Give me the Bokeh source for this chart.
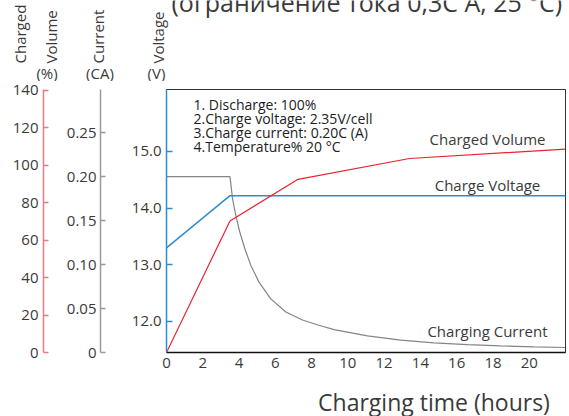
import math
from bokeh.plotting import figure
from bokeh.layouts import column
from bokeh.models import Range1d, LinearAxis, FixedTicker, Label, PrintfTickFormatter
from bokeh.embed import file_html
from bokeh.resources import INLINE

# ---- data ----
hours_volume = [0, 3.5, 7.25, 13.4, 22]
charged_volume = [0, 70.2, 92.4, 103.5, 108.5]

hours_voltage = [0, 3.5, 22]
charge_voltage = [13.3, 14.22, 14.22]

hours_current = [0, 3.5, 3.64, 3.82, 4.04, 4.32, 4.65, 5.1, 5.75, 6.58, 7.5, 8.4,
                 9.24, 11.08, 12.92, 14.75, 16.6, 18.43, 20.27, 22]
charging_current = [0.2, 0.2, 0.175, 0.156, 0.137, 0.118, 0.099, 0.080, 0.061, 0.046,
                    0.037, 0.031, 0.026, 0.019, 0.014, 0.011, 0.009, 0.0075, 0.0064, 0.0057]

x_ticks = [0, 2, 4, 6, 8, 10, 12, 14, 16, 18, 20]
voltage_ticks = [12, 13, 14, 15]
volume_ticks = [0, 20, 40, 60, 80, 100, 120, 140]
current_ticks = [0, 0.05, 0.10, 0.15, 0.20, 0.25]

notes = ["1. Discharge: 100%", "2.Charge voltage: 2.35V/cell",
         "3.Charge current: 0.20C (A)", "4.Temperature% 20 °C"]
series_names = ["Charged Volume", "Charge Voltage", "Charging Current"]
axis_words = ["Charged", "Volume", "Current", "Voltage"]
axis_units = ["(%)", "(CA)", "(V)"]
title_text = "(ограничение тока 0,3C A, 25 °C)"
x_title = "Charging time (hours)"

FONT = "Open Sans"
TXT = "#3a3a3a"
RED = "#e8242e"
RED_AX = "#f07a80"
BLUE = "#2f8bd3"
GRAY = "#858585"
GRAY_AX = "#9a9a9a"
W = 569
TICK_FONT = "15px"


def blank(height, top, bottom):
    f = figure(width=W, height=height, output_backend="svg", toolbar_location=None,
               x_range=Range1d(0, W), y_range=Range1d(bottom, top),
               x_axis_location=None, y_axis_location=None, min_border=0,
               min_border_left=0, min_border_right=0, min_border_top=0, min_border_bottom=0,
               frame_align=False)
    f.outline_line_color = None
    f.grid.visible = False
    f.background_fill_color = "white"
    f.border_fill_color = "white"
    return f


def lab(fig, x, y, text, size, align="left", baseline="middle", angle=0, color=TXT, xr=None, yr=None):
    kw = {}
    if xr:
        kw["x_range_name"] = xr
    if yr:
        kw["y_range_name"] = yr
    fig.add_layout(Label(x=x, y=y, text=text, text_font=FONT, text_font_size=size,
                         text_color=color, text_align=align, text_baseline=baseline,
                         angle=angle, **kw))


def style_axis(ax, color, tick_in, standoff):
    ax.axis_line_color = color
    ax.axis_line_width = 1.5
    ax.major_tick_line_color = color
    ax.major_tick_line_width = 1.5
    ax.major_tick_in = tick_in
    ax.major_tick_out = 0
    ax.minor_tick_line_color = None
    ax.major_label_standoff = standoff
    ax.major_label_text_font = FONT
    ax.major_label_text_font_size = TICK_FONT
    ax.major_label_text_color = TXT


# ---------- header (page y 0..81) ----------
header = blank(81, 0, 81)
lab(header, 171, 1.5, title_text, "25px")
for xx, t in zip([19.5, 50.5, 97.5, 157.5], axis_words):
    lab(header, xx, 63, t, "15px", angle=math.pi / 2)
for xx, t in zip([46.5, 99.5, 156], axis_units):
    lab(header, xx, 72, t, "15px", align="center")

# ---------- main chart (page y 81..380) ----------
p = figure(width=W, height=299, output_backend="svg", toolbar_location=None,
           x_range=Range1d(0, 22), y_range=Range1d(11.452, 16.094),
           min_border_left=166, min_border_right=4, min_border_top=8, min_border_bottom=28,
           frame_align=False)
p.extra_y_ranges = {"vol": Range1d(0, 140.3), "cur": Range1d(0, 0.299), "py": Range1d(352, 89)}
p.extra_x_ranges = {"px": Range1d(166, 565)}
p.xgrid.visible = False
p.ygrid.visible = False
p.outline_line_color = "#333333"
p.outline_line_width = 1
p.background_fill_color = "white"
p.border_fill_color = "white"

xa = p.xaxis[0]
xa.ticker = FixedTicker(ticks=x_ticks)
style_axis(xa, "#111111", 0, 5)
xa.major_tick_line_color = None

ya = p.yaxis[0]
ya.ticker = FixedTicker(ticks=voltage_ticks)
ya.formatter = PrintfTickFormatter(format="%.1f")
style_axis(ya, BLUE, 6, 5)
ya.axis_label = " "
ya.axis_label_text_font_size = "1px"
ya.axis_label_standoff = 24

ca = LinearAxis(y_range_name="cur", ticker=FixedTicker(ticks=current_ticks),
                formatter=PrintfTickFormatter(format="%.2f"))
ca.major_label_overrides = {0: "0"}
style_axis(ca, GRAY_AX, 5, 4)
ca.axis_label = " "
ca.axis_label_text_font_size = "1px"
ca.axis_label_standoff = 16
p.add_layout(ca, "left")

va = LinearAxis(y_range_name="vol", ticker=FixedTicker(ticks=volume_ticks))
style_axis(va, RED_AX, 5, 5)
p.add_layout(va, "left")

p.line(hours_current, charging_current, y_range_name="cur", line_color=GRAY, line_width=1.2)
p.line(hours_voltage, charge_voltage, line_color=BLUE, line_width=1.5)
p.line(hours_volume, charged_volume, y_range_name="vol", line_color=RED, line_width=1.2)

for i, t in enumerate(notes):
    lab(p, 193, 103.5 + i * 14.3, t, "14px", color="#222222", xr="px", yr="py")
for yy, t in zip([138.5, 184.5, 330], series_names):
    lab(p, 487, yy, t, "15px", align="center", xr="px", yr="py")

# ---------- footer (page y 380..416) ----------
footer = blank(36, 380, 416)
lab(footer, 433.5, 401.5, x_title, "23px", align="center")

layout = column(header, p, footer, spacing=0)
open("out.html", "w").write(file_html(layout, INLINE))
